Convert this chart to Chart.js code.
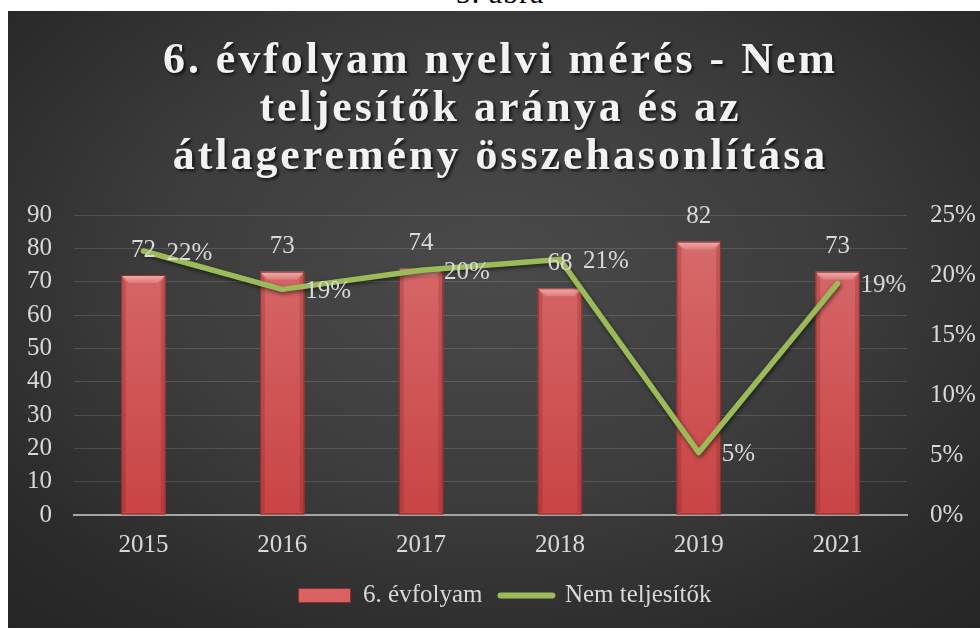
<!DOCTYPE html>
<html>
<head>
<meta charset="utf-8">
<script src="https://cdn.jsdelivr.net/npm/chart.js@4.4.1/dist/chart.umd.min.js"></script>
<style>
	html, body { margin: 0; padding: 0; background: #ffffff; overflow: hidden; }
	#caption {
		position: absolute; left: 0; width: 1000px; top: -22px;
		text-align: center; font: 30px "Liberation Serif", serif; color: #000;
		line-height: 30px; letter-spacing: 1px;
	}
	#wrap {
		position: absolute; left: 8px; top: 11px; width: 972px; height: 617px;
		background: radial-gradient(ellipse 75% 80% at 50% 42%, #4a4a4a 0%, #3d3d3d 45%, #2b2b2b 80%, #252525 100%);
	}
</style>
</head>
<body>
<div id="caption">5. ábra</div>
<div id="wrap"><canvas id="chart" width="972" height="617"></canvas></div>
<script>
var years = ['2015', '2016', '2017', '2018', '2019', '2021'];
var avgScores = [72, 73, 74, 68, 82, 73];
var failShare = [0.22, 0.188, 0.204, 0.213, 0.052, 0.193];
var titleLines = ['6. évfolyam nyelvi mérés - Nem', 'teljesítők aránya és az', 'átlageremény összehasonlítása'];
var seriesNames = ['6. évfolyam', 'Nem teljesítők'];

var textColor = '#d9d9d9';
var serif = '"Liberation Serif", "Times New Roman", serif';

// draws the bevelled top/sides on each bar, like the office 3D bar preset
var bevelPlugin = {
	id: 'bevel',
	afterDatasetDraw: function (chart, args) {
		if (args.index !== 0) return;
		var ctx = chart.ctx;
		args.meta.data.forEach(function (bar) {
			var p = bar.getProps(['x', 'y', 'base', 'width'], true);
			var x0 = p.x - p.width / 2, x1 = p.x + p.width / 2;
			var y0 = p.y, y1 = p.base;
			var b = 8;
			ctx.save();
			var g = ctx.createLinearGradient(0, y0, 0, y0 + b);
			g.addColorStop(0, '#f2b0b0');
			g.addColorStop(1, '#dc7a7a');
			ctx.fillStyle = g;
			ctx.beginPath();
			ctx.moveTo(x0, y0); ctx.lineTo(x1, y0); ctx.lineTo(x1 - b, y0 + b); ctx.lineTo(x0 + b, y0 + b);
			ctx.closePath(); ctx.fill();
			ctx.fillStyle = 'rgba(120,25,25,0.22)';
			ctx.beginPath();
			ctx.moveTo(x0, y0); ctx.lineTo(x0 + b * 0.6, y0 + b); ctx.lineTo(x0 + b * 0.6, y1 - 4); ctx.lineTo(x0, y1);
			ctx.closePath(); ctx.fill();
			ctx.beginPath();
			ctx.moveTo(x1, y0); ctx.lineTo(x1 - b * 0.6, y0 + b); ctx.lineTo(x1 - b * 0.6, y1 - 4); ctx.lineTo(x1, y1);
			ctx.closePath(); ctx.fill();
			ctx.strokeStyle = '#8e2f2f';
			ctx.lineWidth = 1;
			ctx.strokeRect(x0 + 0.5, y0 + 0.5, p.width - 1, y1 - y0 - 1);
			ctx.restore();
		});
	}
};

// soft shadow under the green line
var shadowPlugin = {
	id: 'lineShadow',
	beforeDatasetDraw: function (chart, args) {
		if (args.index !== 1) return;
		var ctx = chart.ctx;
		ctx.save();
		ctx.shadowColor = 'rgba(0,0,0,0.55)';
		ctx.shadowBlur = 4;
		ctx.shadowOffsetX = 1;
		ctx.shadowOffsetY = 2;
	},
	afterDatasetDraw: function (chart, args) {
		if (args.index !== 1) return;
		chart.ctx.restore();
	}
};

var labelPlugin = {
	id: 'valueLabels',
	afterDatasetsDraw: function (chart) {
		var ctx = chart.ctx;
		ctx.save();
		ctx.font = '25px ' + serif;
		ctx.fillStyle = textColor;
		ctx.textBaseline = 'middle';
		chart.getDatasetMeta(0).data.forEach(function (bar, i) {
			ctx.textAlign = 'center';
			ctx.fillText(String(avgScores[i]), bar.x, bar.y - 25);
		});
		chart.getDatasetMeta(1).data.forEach(function (pt, i) {
			ctx.textAlign = 'left';
			ctx.fillText(Math.round(failShare[i] * 100) + '%', pt.x + 23, pt.y + 2);
		});
		ctx.restore();
	}
};

var titlePlugin = {
	id: 'bigTitle',
	afterDraw: function (chart) {
		var ctx = chart.ctx;
		ctx.save();
		ctx.font = 'bold 44px ' + serif;
		ctx.letterSpacing = '0px';
		var natural = ctx.measureText(titleLines[0]).width;
		var spacing = Math.max(0, (675 - natural) / titleLines[0].length);
		ctx.letterSpacing = spacing.toFixed(2) + 'px';
		ctx.textAlign = 'center';
		ctx.textBaseline = 'alphabetic';
		ctx.fillStyle = '#f2f2f2';
		ctx.shadowColor = 'rgba(0,0,0,0.7)';
		ctx.shadowBlur = 3;
		ctx.shadowOffsetX = 2;
		ctx.shadowOffsetY = 2;
		titleLines.forEach(function (line, i) {
			ctx.fillText(line, 491 + spacing / 2, 62 + i * 48);
		});
		ctx.restore();
	}
};

var ctx = document.getElementById('chart').getContext('2d');
var chart = new Chart(ctx, {
	type: 'bar',
	data: {
		labels: years,
		datasets: [{
			type: 'bar',
			label: seriesNames[0],
			data: avgScores,
			yAxisID: 'y',
			order: 2,
			backgroundColor: function (c) {
				var area = c.chart.chartArea;
				if (!area) return '#cf5656';
				var g = c.chart.ctx.createLinearGradient(0, area.top, 0, area.bottom);
				g.addColorStop(0, '#d86e6e');
				g.addColorStop(1, '#c94444');
				return g;
			},
			borderWidth: 0,
			barPercentage: 0.64,
			categoryPercentage: 0.5
		}, {
			type: 'line',
			label: seriesNames[1],
			data: failShare,
			yAxisID: 'y2',
			order: 1,
			borderColor: '#9bbb59',
			backgroundColor: '#9bbb59',
			borderWidth: 5.5,
			borderCapStyle: 'round',
			borderJoinStyle: 'round',
			pointRadius: 0,
			tension: 0
		}]
	},
	options: {
		responsive: false,
		animation: false,
		// negative right padding only nudges the centred legend to the right
		layout: { padding: { top: 204, left: 0, right: -22, bottom: 10 } },
		plugins: {
			title: { display: false },
			tooltip: { enabled: false },
			legend: {
				position: 'bottom',
				labels: {
					color: textColor,
					font: { family: serif, size: 25 },
					usePointStyle: true,
					pointStyleWidth: 52,
					boxHeight: 14,
					padding: 18,
					generateLabels: function (chart) {
						return [{
							text: seriesNames[0], fillStyle: '#d86262', strokeStyle: '#8e2f2f',
							lineWidth: 1, pointStyle: 'rect', datasetIndex: 0, hidden: false, fontColor: textColor
						}, {
							text: seriesNames[1], fillStyle: '#9bbb59', strokeStyle: '#9bbb59',
							lineWidth: 6, lineCap: 'round', pointStyle: 'line', datasetIndex: 1, hidden: false, fontColor: textColor
						}];
					}
				}
			}
		},
		scales: {
			x: {
				grid: { display: false, drawTicks: false },
				border: { display: true, color: '#a6a6a6', width: 2 },
				ticks: { color: textColor, font: { family: serif, size: 25 }, padding: 15 },
				afterFit: function (s) { s.height = 50; }
			},
			y: {
				position: 'left',
				min: 0, max: 90,
				ticks: { stepSize: 10, color: textColor, font: { family: serif, size: 25 }, padding: 22 },
				grid: { color: 'rgba(255,255,255,0.13)', lineWidth: 1, drawTicks: false },
				border: { display: false },
				afterFit: function (s) { s.width = 66; }
			},
			y2: {
				position: 'right',
				min: 0, max: 0.25,
				ticks: {
					stepSize: 0.05, color: textColor, font: { family: serif, size: 25 }, padding: 23,
					callback: function (v) { return Math.round(v * 100) + '%'; }
				},
				grid: { display: false, drawTicks: false },
				border: { display: false },
				afterFit: function (s) { s.width = 95; }
			}
		}
	},
	plugins: [bevelPlugin, shadowPlugin, labelPlugin, titlePlugin]
});
</script>
</body>
</html>
